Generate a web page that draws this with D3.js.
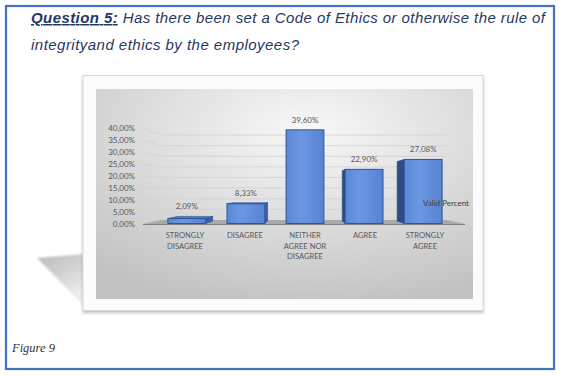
<!DOCTYPE html>
<html>
<head>
<meta charset="utf-8">
<script src="https://cdn.jsdelivr.net/npm/d3@7"></script>
<style>
  html, body { margin: 0; padding: 0; background: #fff; }
  svg { display: block; }
</style>
</head>
<body>
<svg id="chart" width="562" height="376"></svg>
<script>
// data
const categories = [["STRONGLY", "DISAGREE"], ["DISAGREE"], ["NEITHER", "AGREE NOR", "DISAGREE"], ["AGREE"], ["STRONGLY", "AGREE"]];
const validPercent = [2.09, 8.33, 39.60, 22.90, 27.08];
const yTicks = [0, 5, 10, 15, 20, 25, 30, 35, 40];
const seriesName = "Valid Percent";

const locale = d3.formatLocale({ decimal: ",", thousands: ".", grouping: [3], currency: ["", "€"] });
const pct = v => locale.format(".2f")(v) + "%";

let svg = d3.select("#chart");
let defs = svg.append("defs");

// page box
svg.append("rect")
    .attr("x", 6).attr("y", 6)
    .attr("width", 548).attr("height", 363)
    .attr("fill", "#fff")
    .attr("stroke", "#4472c4")
    .attr("stroke-width", 2.2);

// title
let title = svg.append("text")
    .attr("font-family", "Liberation Sans, Arial, sans-serif")
    .attr("font-size", 15)
    .attr("font-style", "italic")
    .attr("fill", "#1f3864");
let t1 = title.append("tspan").attr("x", 31).attr("y", 23)
    .attr("textLength", 514).attr("lengthAdjust", "spacing");
t1.append("tspan").attr("font-weight", "bold").attr("text-decoration", "underline").text("Question 5:");
t1.append("tspan").text(" Has there been set a Code of Ethics or otherwise the rule of");
title.append("tspan").attr("x", 31).attr("y", 50)
    .attr("textLength", 268).attr("lengthAdjust", "spacing")
    .text("integrityand ethics by the employees?");

svg.append("text")
    .attr("x", 12).attr("y", 352)
    .attr("font-family", "Liberation Serif, Times New Roman, serif")
    .attr("font-style", "italic")
    .attr("font-size", 12.5)
    .attr("fill", "#333")
    .text("Figure 9");

// shadow wedge left of the chart frame
let shGrad = defs.append("linearGradient").attr("id", "shGrad")
    .attr("x1", 0).attr("y1", 0).attr("x2", 0.5).attr("y2", 1);
shGrad.append("stop").attr("offset", 0).attr("stop-color", "#b9b9b9");
shGrad.append("stop").attr("offset", 0.5).attr("stop-color", "#d2d2d2");
shGrad.append("stop").attr("offset", 1).attr("stop-color", "#eeeeee");
defs.append("filter").attr("id", "blur").append("feGaussianBlur").attr("stdDeviation", 1.2);
svg.append("polygon")
    .attr("points", "37,258 84,254 84,306")
    .attr("fill", "url(#shGrad)")
    .attr("filter", "url(#blur)");

// frame
let fs = defs.append("filter").attr("id", "fshadow").attr("x", -0.05).attr("y", -0.05).attr("width", 1.1).attr("height", 1.15);
fs.append("feDropShadow").attr("dx", 0).attr("dy", 2).attr("stdDeviation", 1.5).attr("flood-color", "#000").attr("flood-opacity", 0.25);
svg.append("rect")
    .attr("x", 83).attr("y", 75.5)
    .attr("width", 400).attr("height", 235)
    .attr("fill", "#fcfcfc")
    .attr("stroke", "#d6d6d6")
    .attr("filter", "url(#fshadow)");

let bg = defs.append("radialGradient").attr("id", "bgGrad")
    .attr("cx", 0.56).attr("cy", 0.2).attr("r", 0.85);
bg.append("stop").attr("offset", 0).attr("stop-color", "#f8f8f8");
bg.append("stop").attr("offset", 0.45).attr("stop-color", "#e0e0e0");
bg.append("stop").attr("offset", 1).attr("stop-color", "#c2c2c2");
svg.append("rect")
    .attr("x", 96).attr("y", 89)
    .attr("width", 377).attr("height", 210)
    .attr("fill", "url(#bgGrad)");

defs.append("clipPath").attr("id", "plotClip")
    .append("rect").attr("x", 96).attr("y", 89).attr("width", 377).attr("height", 210);

// scales
let x = d3.scaleBand()
    .domain(d3.range(categories.length))
    .range([155, 455])
    .paddingInner(0.36)
    .paddingOuter(0.18);

let y = d3.scaleLinear()
    .domain([0, 40])
    .range([224, 128]);

// simple 3d projection towards a vanishing point
const vp = [304, 189];
const wallDepth = 0.115, barFront = 0.015, barBack = 0.085;
const floorLeft = 143, floorRight = 465;
function proj(px, py, t) {
    return [px + t * (vp[0] - px), py + t * (vp[1] - py)];
}

let g = svg.append("g").attr("clip-path", "url(#plotClip)");

// gridlines (side wall + back wall)
g.append("g").selectAll("polyline")
    .data(yTicks.slice(1))
    .enter().append("polyline")
    .attr("points", d => {
        let a = [floorLeft, y(d)], b = proj(floorLeft, y(d), wallDepth), c = proj(floorRight, y(d), wallDepth);
        return [a, b, c].map(p => p.join(",")).join(" ");
    })
    .attr("fill", "none")
    .attr("stroke", "#d2d2d2")
    .attr("stroke-width", 0.8);

// floor
let fl = [proj(floorLeft, y(0), 0), proj(floorRight, y(0), 0), proj(floorRight, y(0), wallDepth), proj(floorLeft, y(0), wallDepth)];
g.append("polygon")
    .attr("points", fl.map(p => p.join(",")).join(" "))
    .attr("fill", "#a9a9a9");
g.append("line")
    .attr("x1", fl[0][0]).attr("y1", fl[0][1] + 0.5)
    .attr("x2", fl[1][0]).attr("y2", fl[1][1] + 0.5)
    .attr("stroke", "#808080")
    .attr("stroke-width", 1.2);

// y axis labels
let yAxis = d3.axisLeft(y)
    .tickValues(yTicks)
    .tickSize(0)
    .tickPadding(8)
    .tickFormat(pct);
let ya = svg.append("g")
    .attr("transform", "translate(" + floorLeft + ",0)")
    .call(yAxis);
ya.select(".domain").remove();
ya.selectAll("text")
    .attr("font-family", "Lato, Open Sans, sans-serif")
    .attr("font-size", 8)
    .attr("fill", "#595959");

// front face gradient
let fg = defs.append("linearGradient").attr("id", "frontGrad").attr("x1", 0).attr("x2", 1).attr("y1", 0).attr("y2", 0);
fg.append("stop").attr("offset", 0).attr("stop-color", "#5b88d6");
fg.append("stop").attr("offset", 0.4).attr("stop-color", "#6b97e2");
fg.append("stop").attr("offset", 1).attr("stop-color", "#5683d3");

// bars
let bars = g.append("g").selectAll(".bar")
    .data(validPercent)
    .enter().append("g")
    .attr("class", "bar");

bars.each(function (d, i) {
    let sel = d3.select(this);
    let x0 = x(i), x1 = x(i) + x.bandwidth();
    let yt = y(d), yb = y(0);
    let pts = a => a.map(p => p.join(",")).join(" ");
    let cx = (x0 + x1) / 2;
    // side face
    if (Math.abs(cx - vp[0]) > 5) {
        let sx = cx < vp[0] ? x1 : x0;
        sel.append("polygon")
            .attr("points", pts([proj(sx, yt, barFront), proj(sx, yt, barBack), proj(sx, yb, barBack), proj(sx, yb, barFront)]))
            .attr("fill", cx < vp[0] ? "#3a63ae" : "#2e4c84")
            .attr("stroke", "#2a4a85")
            .attr("stroke-width", 0.6);
    }
    // top face
    if (yt > vp[1]) {
        sel.append("polygon")
            .attr("points", pts([proj(x0, yt, barFront), proj(x1, yt, barFront), proj(x1, yt, barBack), proj(x0, yt, barBack)]))
            .attr("fill", "#4a76c6")
            .attr("stroke", "#2f5597")
            .attr("stroke-width", 0.6);
    }
    let a = proj(x0, yt, barFront), b = proj(x1, yb, barFront);
    sel.append("rect")
        .attr("x", a[0]).attr("y", a[1])
        .attr("width", b[0] - a[0]).attr("height", b[1] - a[1])
        .attr("fill", "url(#frontGrad)")
        .attr("stroke", "#2f5597")
        .attr("stroke-width", 1);
});

// value labels
svg.append("g").selectAll("text")
    .data(validPercent)
    .enter().append("text")
    .attr("x", (d, i) => proj(x(i) + x.bandwidth() / 2, y(d), barFront)[0])
    .attr("y", d => Math.min(proj(0, y(d), barFront)[1], proj(0, y(d), barBack)[1]) - 7)
    .attr("text-anchor", "middle")
    .attr("font-family", "Lato, Open Sans, sans-serif")
    .attr("font-size", 8)
    .attr("fill", "#595959")
    .text(pct);

// category labels
let cat = svg.append("g").selectAll("text")
    .data(categories)
    .enter().append("text")
    .attr("text-anchor", "middle")
    .attr("font-family", "Lato, Open Sans, sans-serif")
    .attr("font-size", 7.6)
    .attr("fill", "#595959");
cat.selectAll("tspan")
    .data((d, i) => d.map(s => ({ s: s, i: i })))
    .enter().append("tspan")
    .attr("x", d => x(d.i) + x.bandwidth() / 2)
    .attr("y", (d, j) => 238 + j * 10.5)
    .text(d => d.s);

// series label
g.append("text")
    .attr("x", 423).attr("y", 206)
    .attr("font-family", "Lato, Open Sans, sans-serif")
    .attr("font-size", 8)
    .attr("fill", "#404040")
    .text(seriesName);
</script>
</body>
</html>
